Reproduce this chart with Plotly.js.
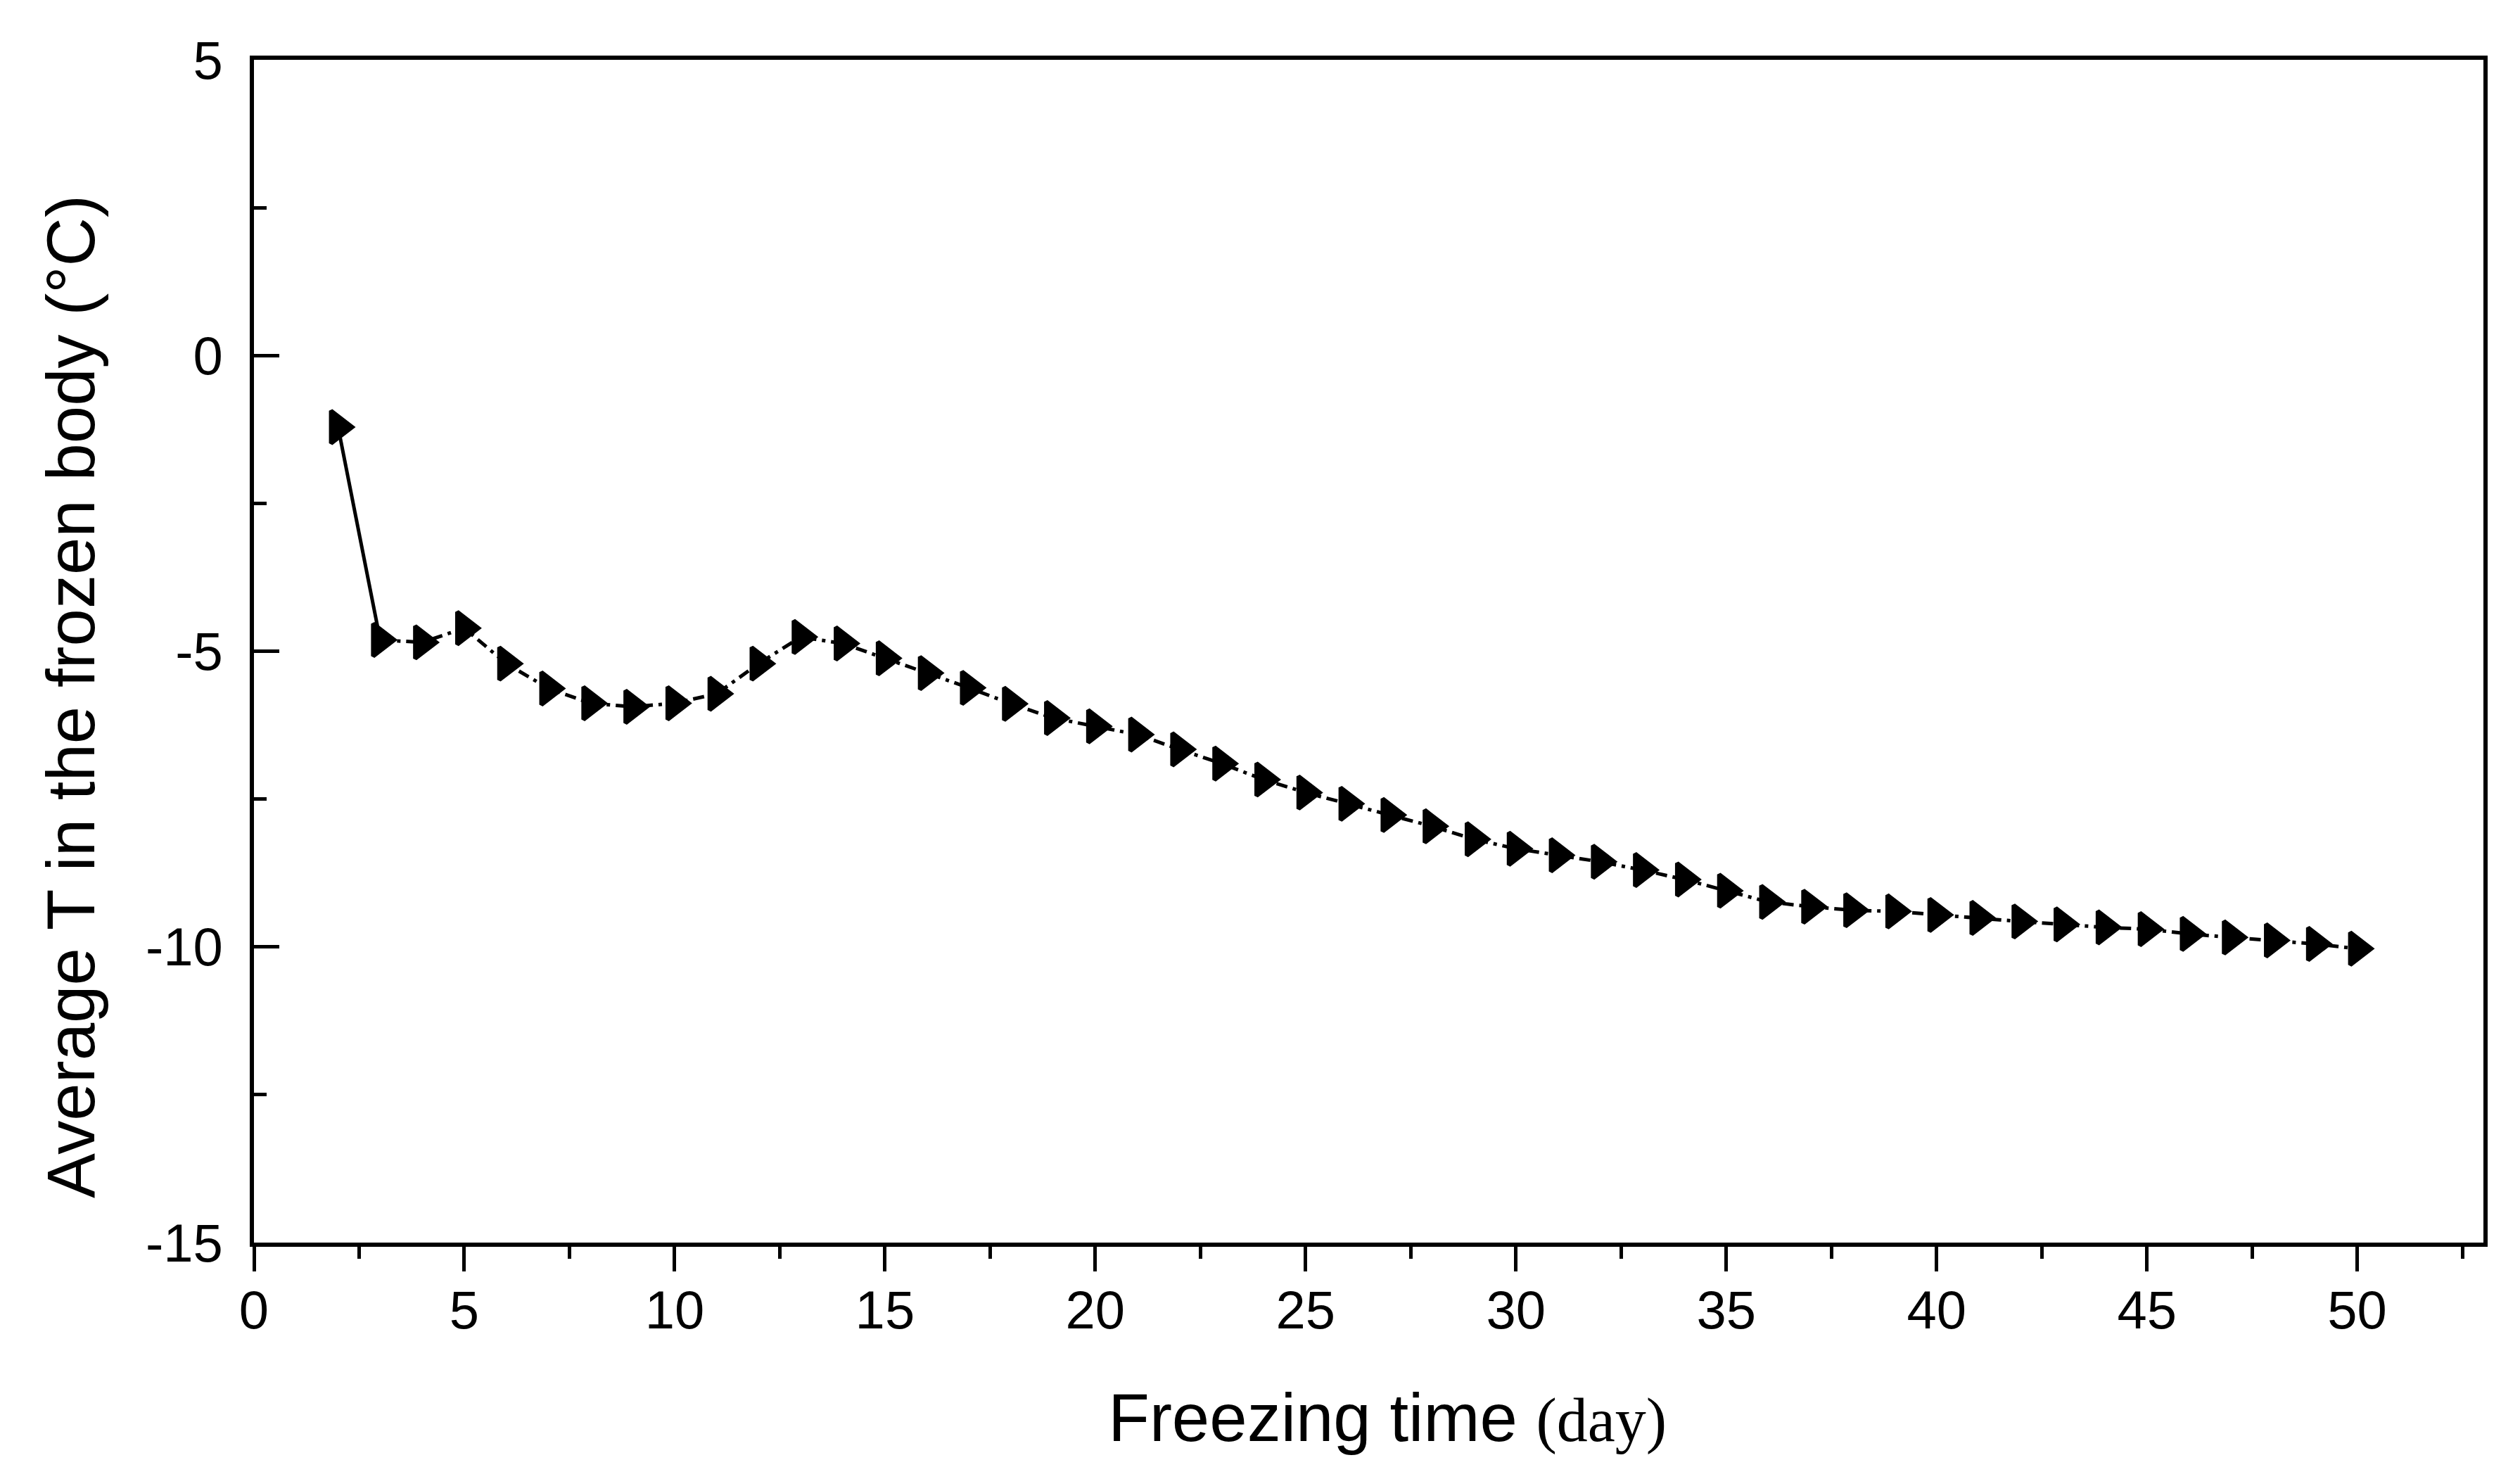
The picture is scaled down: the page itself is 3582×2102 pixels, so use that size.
<!DOCTYPE html>
<html>
<head>
<meta charset="utf-8">
<script src="https://cdn.plot.ly/plotly-3.0.1.min.js"></script>
<style>html,body{margin:0;padding:0;background:#fff;}#chart{width:3582px;height:2102px;}</style>
</head>
<body>
<div id="chart"></div>
<script>
// Freezing time (day)
var days = [2, 3, 4, 5, 6, 7, 8, 9, 10, 11, 12, 13, 14, 15, 16, 17, 18, 19, 20, 21, 22, 23, 24, 25, 26,
            27, 28, 29, 30, 31, 32, 33, 34, 35, 36, 37, 38, 39, 40, 41, 42, 43, 44, 45, 46, 47, 48, 49, 50];
// Average T in the frozen body (°C)
var avgTemp = [-1.21, -4.81, -4.85, -4.61, -5.21, -5.63, -5.88, -5.94, -5.88, -5.72, -5.21, -4.76, -4.87,
               -5.12, -5.37, -5.62, -5.89, -6.13, -6.27, -6.41, -6.66, -6.90, -7.17, -7.39, -7.58, -7.77,
               -7.96, -8.18, -8.34, -8.45, -8.56, -8.70, -8.86, -9.05, -9.24, -9.32, -9.38, -9.40, -9.46,
               -9.51, -9.57, -9.62, -9.67, -9.70, -9.78, -9.84, -9.89, -9.95, -10.03];
var xTickVals = [0, 5, 10, 15, 20, 25, 30, 35, 40, 45, 50];
var yTickVals = [-15, -10, -5, 0, 5];
var xTitle = 'Freezing time';
var xUnit = '(day)';
var yTitle = 'Average T in the frozen body (°C)';

var traces = [
  { // first drop drawn with a solid line
    x: days.slice(0, 2), y: avgTemp.slice(0, 2),
    mode: 'lines', line: {color: '#000', width: 5}, showlegend: false, hoverinfo: 'skip'
  },
  {
    x: days.slice(1), y: avgTemp.slice(1),
    mode: 'lines', line: {color: '#000', width: 5, dash: '16px,8px,5px,8px'}, showlegend: false, hoverinfo: 'skip'
  },
  {
    x: days, y: avgTemp,
    mode: 'markers',
    marker: {symbol: 'triangle-right', size: 40, color: '#000', line: {color: '#000', width: 6}},
    showlegend: false
  }
];

var tickFont = {family: 'Liberation Sans, Arial, sans-serif', size: 76, color: '#000'};
var layout = {
  width: 3582, height: 2102,
  margin: {l: 361, r: 52, t: 85, b: 336},
  paper_bgcolor: '#fff', plot_bgcolor: '#fff',
  font: {family: 'Liberation Sans, Arial, sans-serif', color: '#000'},
  xaxis: {
    range: [0, 53], showgrid: false, zeroline: false,
    showline: true, linecolor: '#000', linewidth: 6, mirror: true,
    tickmode: 'array', tickvals: xTickVals, ticktext: xTickVals.map(String),
    ticks: 'outside', ticklen: 35, tickwidth: 5, tickcolor: '#000',
    minor: {dtick: 2.5, tick0: 0, ticks: 'outside', ticklen: 17, tickwidth: 5, tickcolor: '#000', showgrid: false},
    tickfont: tickFont, ticklabelstandoff: -10,
    title: {text: '&nbsp;&nbsp;' + xTitle + ' <span style="font-family:Liberation Serif, Times New Roman, serif;font-size:88px">' + xUnit + '</span>',
            font: {family: 'Liberation Sans, Arial, sans-serif', size: 96, color: '#000'}, standoff: 80}
  },
  yaxis: {
    range: [-15, 5], showgrid: false, zeroline: false,
    showline: true, linecolor: '#000', linewidth: 6, mirror: true,
    tickmode: 'array', tickvals: yTickVals, ticktext: yTickVals.map(String),
    ticks: 'inside', ticklen: 36, tickwidth: 5, tickcolor: '#000',
    minor: {dtick: 2.5, tick0: 0, ticks: 'inside', ticklen: 18, tickwidth: 5, tickcolor: '#000', showgrid: false},
    tickfont: tickFont, ticklabelstandoff: 23
  },
  annotations: [{
    text: yTitle, textangle: -90, showarrow: false,
    xref: 'paper', yref: 'paper', x: -0.0824, y: 0.4616, xanchor: 'center', yanchor: 'middle',
    font: {family: 'Liberation Sans, Arial, sans-serif', size: 96, color: '#000'}
  }]
};

Plotly.newPlot('chart', traces, layout, {staticPlot: true, displayModeBar: false});
</script>
</body>
</html>
